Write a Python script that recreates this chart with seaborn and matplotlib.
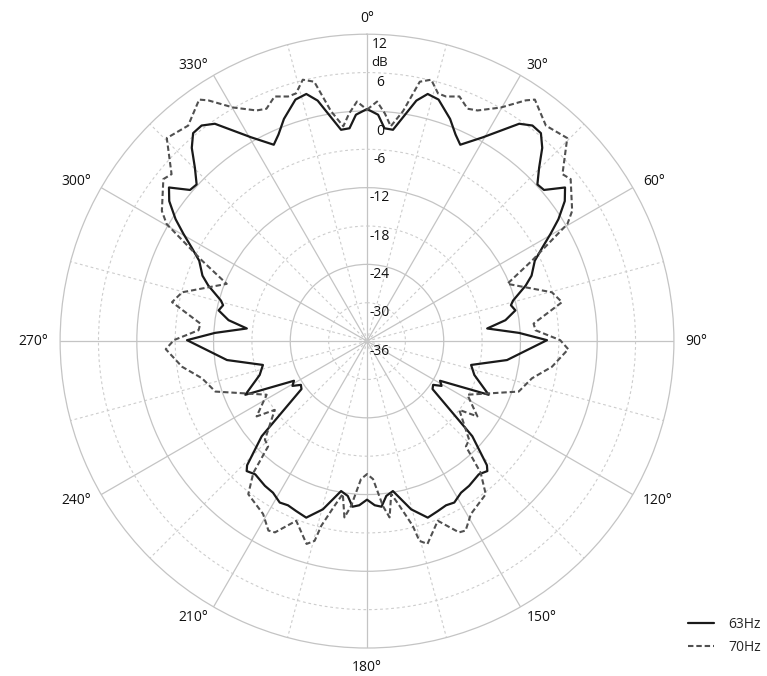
import numpy as np
import matplotlib
matplotlib.use("Agg")
import matplotlib.pyplot as plt
import matplotlib.transforms as mtransforms
import seaborn as sns


# DATA (for 0..180 deg, the pattern is mirrored for 180..360)

ANGLES_63 = [0, 2.8, 4.7, 7.0, 11.6, 13.8, 16.5, 20.5, 23.2, 25.4, 29.6, 35.0,
             37.5, 39.9, 42.2, 44.8, 47.4, 49.5, 52.2, 54.7, 57.5, 59.7, 61.9,
             64.4, 68.3, 70.7, 74.5, 76.0, 78.3, 81.4, 84.0, 86.9, 89.7, 97.7,
             102.9, 107.5, 113.8, 118.5, 121.0, 123.5, 126.2, 132.1, 136.0,
             137.2, 140.0, 144.8, 148.2, 151.6, 154.3, 157.4, 161.0, 165.3,
             170.2, 172.9, 175.0, 177.3, 180]
DB_63 = [0.3, -0.55, -2.6, -2.7, 2.4, 3.8, 3.4, 1.1, -0.85, -2.0, 0.65, 5.5,
         6.5, 6.4, 4.8, 2.2, 0.2, 0.4, 3.2, 1.9, -0.5, -2.75, -4.9,
         -6.9, -8.3, -9.7, -12.3, -12.8, -12.3, -14.1, -17.1, -12.2, -7.85, -13.9,
         -19.3, -18.4, -15.2, -23.0, -22.4, -23.6, -23.3, -13.8, -9.0,
         -8.3, -8.8, -8.3, -8.1, -7.3, -7.5, -7.2, -6.8, -8.8,
         -12.2, -11.6, -10.0, -10.3, -11.2]

ANGLES_70 = [0, 2.4, 4.5, 6.3, 8.9, 11.5, 13.8, 16.0, 17.9, 20.7, 23.4, 25.6,
             29.8, 33.4, 34.8, 39.7, 44.6, 49.5, 51.5, 57.6, 59.7, 64.0, 67.8,
             75.2, 78.7, 84.0, 86.3, 89.7, 92.3, 97.9, 102.7, 108.4, 118.1,
             124.3, 126.7, 134.0, 136.8, 139.2, 142.2, 149.0, 152.5, 154.3,
             158.5, 163.4, 165.3, 166.1, 168.8, 171.0, 172.7, 174.5, 177.5, 180]
DB_70 = [0.2, 1.5, -0.3, -2.2, 0.4, 5.4, 6.1, 4.3, 4.2, 4.9, 3.6, 4.0,
         6.1, 9.1, 10.0, 7.8, 8.6, 4.2, 4.7, 2.0, 0.3, -7.3, -12.3,
         -6.1, -4.9, -9.8, -9.6, -5.8, -4.5, -6.8, -9.55, -11.0, -18.2,
         -15.1, -18.0, -13.8, -13.4, -8.8, -5.7, -4.45, -2.6, -2.8,
         -5.8, -2.9, -3.7, -6.25, -9.7, -11.8, -8.2, -10.1, -14.4, -15.2]

SERIES = ["63Hz", "70Hz"]
R_TICKS = [12, 6, 0, -6, -12, -18, -24, -30, -36]
THETA_TICKS = list(range(0, 360, 30))


def mirror(angles, values):
    a = np.asarray(angles, dtype=float)
    v = np.asarray(values, dtype=float)
    full_a = np.concatenate([a, 360 - a[::-1][1:]])
    full_v = np.concatenate([v, v[::-1][1:]])
    return np.deg2rad(full_a), full_v


# STYLE

sns.set_style("white")
plt.rcParams["font.family"] = ["Open Sans", "DejaVu Sans"]
plt.rcParams["font.size"] = 10

GRID = "#c4c4c4"
TEXT = "#111111"

fig = plt.figure(figsize=(7.67, 6.76), dpi=100)
ax = fig.add_axes([0.0782, 0.0414, 0.8006, 0.908], projection="polar")
ax.set_theta_zero_location("N")
ax.set_theta_direction(-1)
ax.set_ylim(-36, 12)


# GRID

ax.set_xticks(np.deg2rad(np.arange(0, 360, 15)))
ax.set_yticks([-30, -24, -18, -12, -6, 0, 6])
ax.set_xticklabels([])
ax.set_yticklabels([])
ax.grid(True)
ax.set_axisbelow(True)

for i, gl in enumerate(ax.xaxis.get_gridlines()):
    if i % 2 == 0:
        gl.set(color=GRID, linewidth=0.9, linestyle="-")
    else:
        gl.set(color="#cdcdcd", linewidth=0.8, linestyle=(0, (2.5, 2.5)))

for val, gl in zip([-30, -24, -18, -12, -6, 0, 6], ax.yaxis.get_gridlines()):
    if val % 12 == 0:
        gl.set(color=GRID, linewidth=0.9, linestyle="-")
    else:
        gl.set(color="#cdcdcd", linewidth=0.8, linestyle=(0, (2.5, 2.5)))

ax.spines["polar"].set_color(GRID)
ax.spines["polar"].set_linewidth(0.9)


# DATA LINES

th63, r63 = mirror(ANGLES_63, DB_63)
th70, r70 = mirror(ANGLES_70, DB_70)

sns.lineplot(x=th63, y=r63, ax=ax, sort=False, estimator=None,
             color="#1a1a1a", linewidth=1.6, label=SERIES[0])
sns.lineplot(x=th70, y=r70, ax=ax, sort=False, estimator=None,
             color="#505050", linewidth=1.5, linestyle=(0, (2.6, 1.4)),
             label=SERIES[1])
ax.set_xlabel("")
ax.set_ylabel("")


# LABELS

for deg in THETA_TICKS:
    s = np.sin(np.deg2rad(deg))
    if deg == 0:
        ha, va = "center", "baseline"
    elif deg == 180:
        ha, va = "center", "top"
    else:
        ha, va = ("left" if s > 0 else "right"), "center"
    ax.text(np.deg2rad(deg), 13.85, f"{deg}°", ha=ha, va=va,
            fontsize=10, color=TEXT)

for val in R_TICKS:
    dy = -21 if val == 0 else -10
    trans = mtransforms.offset_copy(ax.transData, fig=fig, x=13, y=dy, units="dots")
    ax.text(0, val, str(val), transform=trans, ha="center", va="center",
            fontsize=10, color=TEXT)

trans = mtransforms.offset_copy(ax.transData, fig=fig, x=13, y=-28, units="dots")
ax.text(0, 12, "dB", transform=trans, ha="center", va="center",
        fontsize=9.5, color=TEXT)

handles, labels = ax.get_legend_handles_labels()
ax.legend(handles, labels, loc="upper left",
          bbox_to_anchor=(681 / 767, 1 - 610 / 676), bbox_transform=fig.transFigure,
          frameon=False, borderpad=0, handlelength=1.9, handletextpad=1.0,
          labelspacing=0.55, fontsize=10)

fig.savefig("out.png", dpi=100)
